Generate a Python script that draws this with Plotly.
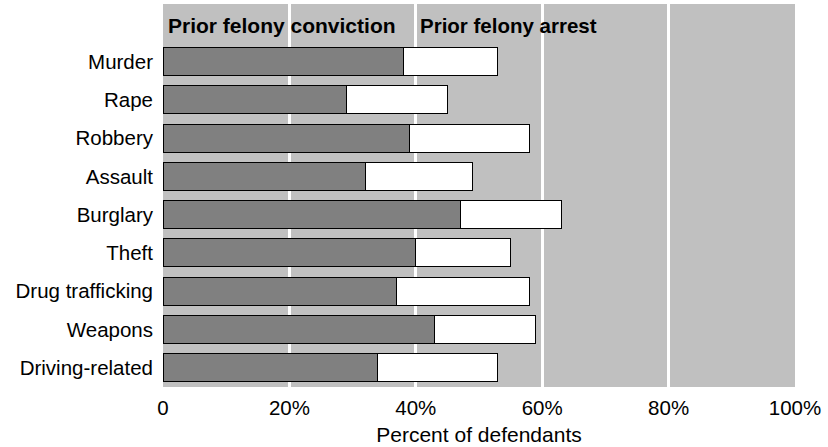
import plotly.graph_objects as go

categories = ["Murder", "Rape", "Robbery", "Assault", "Burglary", "Theft",
              "Drug trafficking", "Weapons", "Driving-related"]
conviction = [38, 29, 39, 32, 47, 40, 37, 43, 34]
arrest_total = [53, 45, 58, 49, 63, 55, 58, 59, 53]
arrest_only = [t - c for t, c in zip(arrest_total, conviction)]

tick_vals = [0, 20, 40, 60, 80, 100]
tick_text = ["0", "20%", "40%", "60%", "80%", "100%"]

FONT = "Liberation Sans, Arial, sans-serif"

fig = go.Figure()
fig.add_trace(go.Bar(y=categories, x=conviction, orientation="h",
                     name="Prior felony conviction",
                     marker=dict(color="#808080", line=dict(color="#000000", width=1))))
fig.add_trace(go.Bar(y=categories, x=arrest_only, orientation="h",
                     name="Prior felony arrest",
                     marker=dict(color="#ffffff", line=dict(color="#000000", width=1))))

fig.update_layout(
    barmode="stack",
    bargap=0.27,
    width=828, height=447,
    margin=dict(l=163, r=33, t=4, b=60),
    paper_bgcolor="white",
    plot_bgcolor="#c0c0c0",
    showlegend=False,
    font=dict(family=FONT, size=20.5, color="#000000"),
    xaxis=dict(range=[0, 100], tickvals=tick_vals, ticktext=tick_text,
               showgrid=True, gridcolor="#ffffff", gridwidth=3,
               zeroline=False, showline=False, ticks="",
               ticklabelstandoff=6, tickfont=dict(size=20.5),
               title=dict(text="Percent of defendants", standoff=9,
                          font=dict(size=21))),
    yaxis=dict(categoryorder="array", categoryarray=categories[::-1],
               range=[-0.5, 9.5], showgrid=False, zeroline=False,
               ticks="", ticklabelstandoff=9),
)

fig.add_annotation(text="<b>Prior felony conviction</b>", x=0.5, xref="x",
                   y=0.945, yref="paper", xanchor="left", yanchor="middle",
                   showarrow=False, font=dict(size=21, family=FONT))
fig.add_annotation(text="<b>Prior felony arrest</b>", x=40.3, xref="x",
                   y=0.945, yref="paper", xanchor="left", yanchor="middle",
                   showarrow=False, font=dict(size=20.5, family=FONT))

fig.write_html("out.html", config={"displayModeBar": False},
               post_script="document.body.style.margin='0px';")
